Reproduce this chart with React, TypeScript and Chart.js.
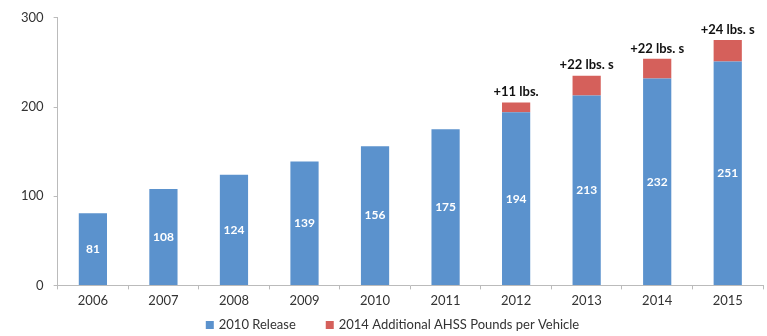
import React, { useEffect, useRef } from "react";
import { Chart, registerables } from "chart.js";

Chart.register(...registerables);

const categories = ["2006", "2007", "2008", "2009", "2010", "2011", "2012", "2013", "2014", "2015"];
const release2010 = [81, 108, 124, 139, 156, 175, 194, 213, 232, 251];
const additional2014 = [0, 0, 0, 0, 0, 0, 11, 22, 22, 24];
const topLabels = ["", "", "", "", "", "", "+11 lbs.", "+22 lbs. s", "+22 lbs. s", "+24 lbs. s"];
const yTicks = [0, 100, 200, 300];
const seriesNames = ["2010 Release", "2014 Additional AHSS Pounds per Vehicle"];
const seriesColors = ["#5b92cd", "#d5605b"];

const FONT = "Lato, 'Open Sans', sans-serif";

const labelPlugin = {
  id: "barLabels",
  afterDatasetsDraw(chart: any) {
    const ctx = chart.ctx;
    const meta0 = chart.getDatasetMeta(0);
    const meta1 = chart.getDatasetMeta(1);
    ctx.save();
    ctx.textAlign = "center";
    ctx.textBaseline = "middle";
    meta0.data.forEach((bar: any, i: number) => {
      ctx.fillStyle = "#ffffff";
      ctx.font = `bold 12px ${FONT}`;
      const mid = (bar.y + bar.base) / 2;
      ctx.fillText(String(release2010[i]), bar.x, mid);
      if (topLabels[i]) {
        const top = meta1.data[i].y;
        ctx.fillStyle = "#111111";
        ctx.font = `bold 13px ${FONT}`;
        ctx.textBaseline = "bottom";
        ctx.fillText(topLabels[i], bar.x, top - 4);
        ctx.textBaseline = "middle";
      }
    });
    ctx.restore();
  },
};

const legendPlugin = {
  id: "customLegend",
  afterDraw(chart: any) {
    const ctx = chart.ctx;
    ctx.save();
    ctx.font = `13px ${FONT}`;
    ctx.textBaseline = "middle";
    ctx.textAlign = "left";
    const box = 8;
    const gapBoxText = 5;
    const gapItems = 30;
    const widths = seriesNames.map((n) => box + gapBoxText + ctx.measureText(n).width);
    const total = widths.reduce((a, b) => a + b, 0) + gapItems * (seriesNames.length - 1);
    let x = chart.width / 2 + 9 - total / 2;
    const y = chart.height - 11;
    seriesNames.forEach((n, i) => {
      ctx.fillStyle = seriesColors[i];
      ctx.fillRect(x, y - box / 2, box, box);
      ctx.fillStyle = "#333333";
      ctx.fillText(n, x + box + gapBoxText, y);
      x += widths[i] + gapItems;
    });
    ctx.restore();
  },
};

export default function App() {
  const ref = useRef<HTMLCanvasElement | null>(null);
  useEffect(() => {
    if (!ref.current) return;
    const chart = new Chart(ref.current, {
      type: "bar",
      data: {
        labels: categories,
        datasets: [
          {
            label: seriesNames[0],
            data: release2010,
            backgroundColor: seriesColors[0],
            barPercentage: 0.8,
            categoryPercentage: 0.5,
            stack: "s",
          },
          {
            label: seriesNames[1],
            data: additional2014,
            backgroundColor: seriesColors[1],
            barPercentage: 0.8,
            categoryPercentage: 0.5,
            stack: "s",
          },
        ],
      },
      options: {
        responsive: false,
        animation: false,
        layout: { padding: { left: 11, right: 4, top: 16, bottom: 23 } },
        plugins: {
          tooltip: { enabled: false },
          legend: { display: false },
        },
        scales: {
          x: {
            stacked: true,
            grid: { display: true, drawOnChartArea: false, offset: true, tickLength: 4, color: "#bbbbbb" },
            border: { color: "#bbbbbb" },
            ticks: { color: "#333333", font: { family: FONT, size: 13 }, padding: 4 },
          },
          y: {
            stacked: true,
            min: 0,
            max: 300,
            afterBuildTicks: (axis: any) => {
              axis.ticks = yTicks.map((v) => ({ value: v }));
            },
            grid: { display: true, drawOnChartArea: false, tickLength: 4, color: "#bbbbbb" },
            border: { color: "#bbbbbb" },
            ticks: { color: "#333333", font: { family: FONT, size: 13 }, padding: 10 },
          },
        },
      },
      plugins: [labelPlugin, legendPlugin],
    });
    return () => chart.destroy();
  }, []);
  return (
    <div style={{ position: "fixed", left: 0, top: 0, width: 767, height: 336, background: "#fff" }}>
      <canvas ref={ref} width={767} height={336} />
    </div>
  );
}
